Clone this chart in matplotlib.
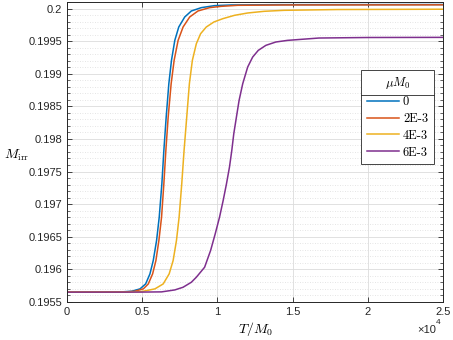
import numpy as np
import matplotlib.pyplot as plt
from matplotlib.ticker import FuncFormatter, MultipleLocator

plt.rcParams['mathtext.fontset'] = 'cm'
plt.rcParams['font.family'] = 'Liberation Sans'

# values (T in units of M0, M_irr)
t_0 = [0, 3500, 4300, 4851, 5226, 5512, 5732, 5953, 6129, 6305, 6437, 6592,
       6768, 6944, 7165, 7429, 7825, 8266, 8927, 9808, 10910, 14000, 25000]
m_0 = [0.19565, 0.195652, 0.195664, 0.195700, 0.195776, 0.195930, 0.196135,
       0.196442, 0.196800, 0.197312, 0.197823, 0.198335, 0.198847, 0.199205,
       0.199512, 0.199717, 0.199871, 0.199963, 0.200014, 0.200045, 0.200055,
       0.200060, 0.200062]

t_2e3 = [0, 3800, 4521, 5072, 5402, 5689, 5909, 6107, 6284, 6437, 6570, 6724,
         6922, 7120, 7385, 7715, 8156, 8706, 9478, 10249, 11350, 14500, 25000]
m_2e3 = [0.19565, 0.195652, 0.195664, 0.195700, 0.195776, 0.195930, 0.196135,
         0.196442, 0.196800, 0.197312, 0.197823, 0.198335, 0.198847, 0.199205,
         0.199512, 0.199717, 0.199871, 0.199963, 0.200014, 0.200034, 0.200050,
         0.200055, 0.200057]

t_4e3 = [0, 4000, 4962, 5843, 6393, 6790, 7054, 7275, 7451, 7627, 7781, 7958,
         8134, 8332, 8597, 8883, 9258, 9764, 10359, 11130, 12011, 13113, 14435,
         18000, 25000]
m_4e3 = [0.19565, 0.195652, 0.195659, 0.195700, 0.195776, 0.195930, 0.196135,
         0.196442, 0.196800, 0.197312, 0.197823, 0.198335, 0.198847, 0.199205,
         0.199461, 0.199615, 0.199717, 0.199794, 0.199845, 0.199896, 0.199932,
         0.199958, 0.199973, 0.199985, 0.199990]

t_6e3 = [0, 5000, 6284, 7165, 7715, 8266, 8597, 9147, 9544, 9852, 10139, 10381,
         10601, 10800, 10954, 11086, 11262, 11439, 11681, 12011, 12342, 12716,
         13223, 13884, 14655, 16748, 20000, 25000]
m_6e3 = [0.19565, 0.195651, 0.195654, 0.195684, 0.195725, 0.195802, 0.195879,
         0.196032, 0.196288, 0.196544, 0.196800, 0.197056, 0.197312, 0.197568,
         0.197823, 0.198079, 0.198335, 0.198591, 0.198847, 0.199103, 0.199256,
         0.199359, 0.199436, 0.199487, 0.199512, 0.199548, 0.199556, 0.199558]

labels = ['0', '2E-3', '4E-3', '6E-3']
colors = ['#0072BD', '#D95319', '#EDB120', '#7E2F8E']

fig = plt.figure(figsize=(4.53, 3.40), dpi=100)
ax = fig.add_axes([0.148, 0.112, 0.830, 0.882])

series = [(t_0, m_0), (t_2e3, m_2e3), (t_4e3, m_4e3), (t_6e3, m_6e3)]
for (t, m), lab, c in zip(series, labels, colors):
    ax.plot(t, m, color=c, lw=1.1, label=lab)

ax.set_xlim(0, 25000)
ax.set_ylim(0.1955, 0.2001)
ax.xaxis.set_major_locator(MultipleLocator(5000))
ax.xaxis.set_major_formatter(FuncFormatter(lambda x, p: f'{x / 1e4:g}'))
ax.yaxis.set_major_locator(MultipleLocator(0.0005))
ax.yaxis.set_minor_locator(MultipleLocator(0.0001))
ax.yaxis.set_major_formatter(FuncFormatter(lambda y, p: f'{round(y, 6):g}'))

ax.tick_params(which='both', direction='in', top=True, right=True,
               labelsize=8, colors='#262626', labelcolor='#262626')
ax.tick_params(which='major', length=3.5, width=0.6)
ax.tick_params(which='minor', length=2, width=0.5)
for s in ax.spines.values():
    s.set_color('#262626')
    s.set_linewidth(0.7)

ax.grid(which='major', color='#dcdcdc', lw=0.6)
ax.grid(which='minor', axis='y', color='#dcdcdc', lw=0.6, ls=(0, (1, 2)))
ax.set_axisbelow(True)

ax.set_xlabel(r'$T/M_0$', fontsize=10, labelpad=2)
ax.set_ylabel(r'$M_{\rm irr}$', fontsize=10, rotation=0, ha='center', va='center')
ax.yaxis.set_label_coords(-0.135, 0.49)

fig.text(0.922, 0.022, '×10', fontsize=8, color='#262626')
fig.text(0.962, 0.047, '4', fontsize=6, color='#262626')

leg = ax.legend(title=r'$\mu M_0$', loc='upper left', bbox_to_anchor=(0.782, 0.775),
                frameon=True, fancybox=False, edgecolor='#262626', framealpha=1,
                prop={'family': 'cmr10', 'size': 9}, title_fontsize=9,
                handlelength=2.6, handletextpad=0.3, labelspacing=0.38,
                borderpad=0.45, borderaxespad=0)
leg.get_frame().set_linewidth(0.6)

fig.canvas.draw()
bb = leg.get_frame().get_window_extent().transformed(fig.transFigure.inverted())
tb = leg.get_title().get_window_extent().transformed(fig.transFigure.inverted())
ysep = tb.y0 - 0.01
fig.add_artist(plt.Line2D([bb.x0, bb.x1], [ysep, ysep], color='#262626', lw=0.6))

fig.savefig('out.png', dpi=100)
